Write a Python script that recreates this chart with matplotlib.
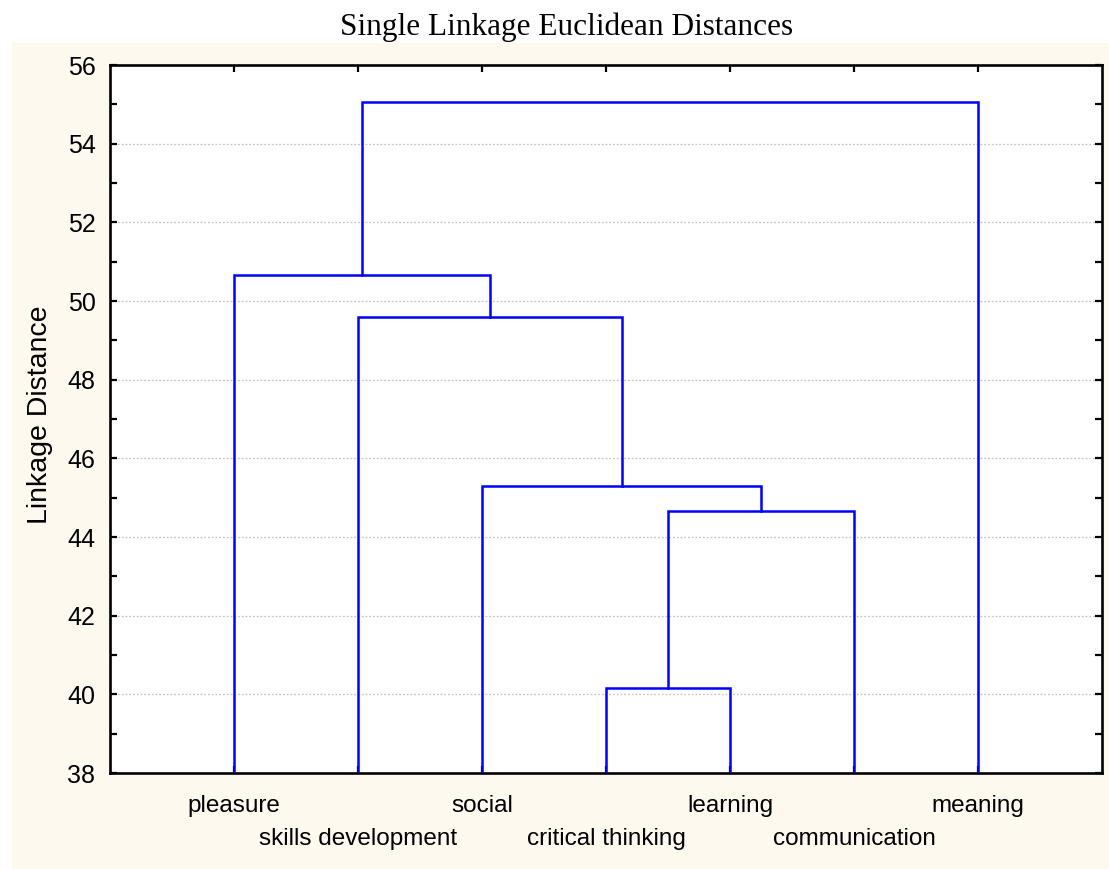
import matplotlib
matplotlib.use("Agg")
import matplotlib.pyplot as plt
from matplotlib.patches import Rectangle
from matplotlib.ticker import MultipleLocator

# leaves in the order they appear along the x axis
labels = ['pleasure', 'skills development', 'social', 'critical thinking',
          'learning', 'communication', 'meaning']

# merge steps: leaves are 0-6, new clusters get 7, 8, ... in this order
merge_left = [3, 7, 2, 1, 0, 11]
merge_right = [4, 5, 8, 9, 10, 6]
merge_height = [40.16, 44.66, 45.30, 49.59, 50.66, 55.06]

y_min, y_max = 38, 56

W, H = 1109, 869
fig = plt.figure(figsize=(W / 100, H / 100), dpi=100)
fig.patch.set_facecolor('white')

# cream panel behind the chart
fig.patches.append(Rectangle((12 / W, 0), 1 - 12 / W, 1 - 43 / H,
                             transform=fig.transFigure, facecolor='#fdf9ef',
                             edgecolor='none', zorder=-10))

ax = fig.add_axes([110 / W, (H - 773) / H, 992 / W, 708 / H])
ax.set_facecolor('white')

# build the dendrogram from the merge list
xpos = {i: i + 1 for i in range(len(labels))}
ypos = {i: y_min for i in range(len(labels))}
for k, (a, b, h) in enumerate(zip(merge_left, merge_right, merge_height)):
    xa, xb = xpos[a], xpos[b]
    ax.plot([xa, xa, xb, xb], [ypos[a], h, h, ypos[b]],
            color='#0000ff', lw=1.8, solid_joinstyle='miter', zorder=3)
    new = len(labels) + k
    xpos[new] = (xa + xb) / 2
    ypos[new] = h

ax.set_xlim(0, len(labels) + 1)
ax.set_ylim(y_min, y_max)

leaf_x = list(range(1, len(labels) + 1))
ax.set_xticks(leaf_x)
ax.set_xticklabels([])
ax.yaxis.set_major_locator(MultipleLocator(2))
ax.yaxis.set_minor_locator(MultipleLocator(1))
ax.tick_params(axis='both', which='both', direction='in', top=True, right=True,
               length=5, width=1.6, color='black')
ax.tick_params(axis='y', which='major', labelsize=18, pad=10.5)
for lab in ax.get_yticklabels():
    lab.set_family(['Liberation Sans', 'DejaVu Sans'])

for s in ax.spines.values():
    s.set_linewidth(1.9)
    s.set_color('black')

ax.set_axisbelow(True)
ax.yaxis.grid(True, which='major', color='#c4c4c4', linestyle=(0, (1.5, 1.5)),
              linewidth=0.9)

# staggered leaf labels, two rows
for i, name in enumerate(labels):
    yrow = -0.0552 if i % 2 == 0 else -0.1018
    ax.text(leaf_x[i], yrow, name, transform=ax.get_xaxis_transform(),
            ha='center', va='baseline', fontsize=17.5,
            family=['Liberation Sans', 'DejaVu Sans'])

fig.text(40 / W, 1 - 415 / H, 'Linkage Distance', rotation=90,
         ha='center', va='center', fontsize=20.5,
         family=['Liberation Sans', 'DejaVu Sans'])

fig.text(567 / W, 1 - 35 / H, 'Single Linkage Euclidean Distances',
         ha='center', va='baseline', fontsize=22.5,
         family=['Liberation Serif', 'DejaVu Serif'])

fig.savefig('out.png', dpi=100)
